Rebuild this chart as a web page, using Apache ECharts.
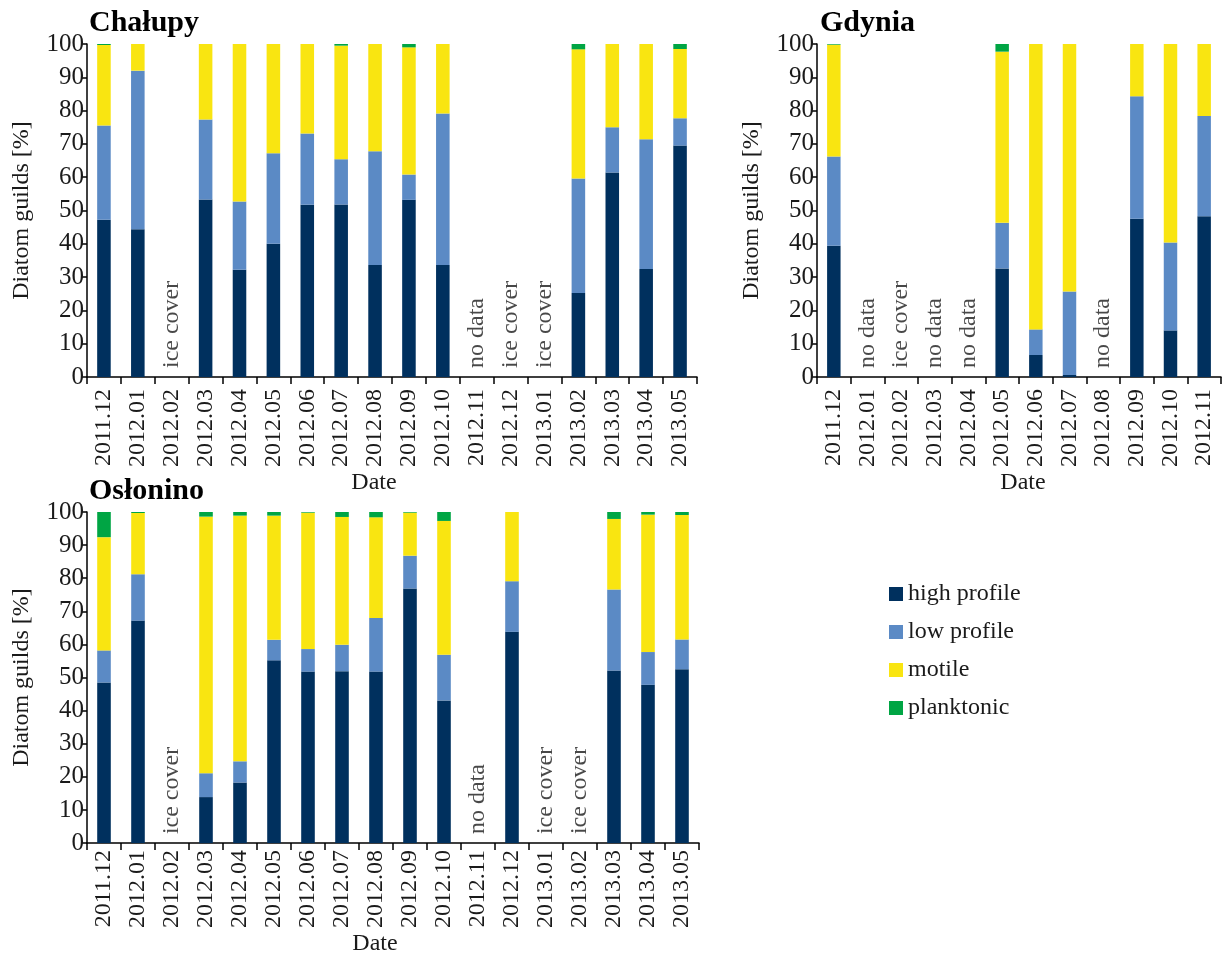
<!DOCTYPE html>
<html>
<head>
<meta charset="utf-8">
<script src="https://cdn.jsdelivr.net/npm/echarts@6/dist/echarts.min.js"></script>
<style>
html,body{margin:0;padding:0;background:#fff;}
#chart{width:1229px;height:957px;}
</style>
</head>
<body>
<div id="chart"></div>
<script>
// ---------- DATA ----------
const seriesNames = ['high profile', 'low profile', 'motile', 'planktonic'];

const chalupyCats = ['2011.12','2012.01','2012.02','2012.03','2012.04','2012.05','2012.06','2012.07','2012.08','2012.09','2012.10','2012.11','2012.12','2013.01','2013.02','2013.03','2013.04','2013.05'];
const chalupyHigh  = [47.2, 44.4, null, 53.3, 32.2, 40.0, 51.7, 51.8, 33.6, 53.2, 33.6, null, null, null, 25.2, 61.4, 32.4, 69.5];
const chalupyLow   = [28.3, 47.6, null, 24.0, 20.5, 27.2, 21.4, 13.6, 34.2, 7.6, 45.5, null, null, null, 34.4, 13.6, 39.0, 8.2];
const chalupyMot   = [24.2, 8.0, null, 22.7, 47.3, 32.8, 26.9, 34.1, 32.2, 38.2, 20.9, null, null, null, 38.8, 25.0, 28.6, 20.8];
const chalupyPlank = [0.3, 0, null, 0, 0, 0, 0, 0.5, 0, 1.0, 0, null, null, null, 1.6, 0, 0, 1.5];
const chalupyNotes = ['', '', 'ice cover', '', '', '', '', '', '', '', '', 'no data', 'ice cover', 'ice cover', '', '', '', ''];

const gdyniaCats = ['2011.12','2012.01','2012.02','2012.03','2012.04','2012.05','2012.06','2012.07','2012.08','2012.09','2012.10','2012.11'];
const gdyniaHigh  = [39.4, null, null, null, null, 32.6, 6.6, 0.6, null, 47.5, 14.0, 48.3];
const gdyniaLow   = [26.8, null, null, null, null, 13.7, 7.7, 25.1, null, 36.8, 26.4, 30.1];
const gdyniaMot   = [33.6, null, null, null, null, 51.4, 85.7, 74.3, null, 15.7, 59.6, 21.6];
const gdyniaPlank = [0.2, null, null, null, null, 2.3, 0, 0, null, 0, 0, 0];
const gdyniaNotes = ['', 'no data', 'ice cover', 'no data', 'no data', '', '', '', 'no data', '', '', ''];

const oslCats = ['2011.12','2012.01','2012.02','2012.03','2012.04','2012.05','2012.06','2012.07','2012.08','2012.09','2012.10','2012.11','2012.12','2013.01','2013.02','2013.03','2013.04','2013.05'];
const oslHigh  = [48.5, 67.2, null, 13.9, 18.3, 55.2, 51.8, 51.9, 51.8, 76.9, 43.1, null, 63.8, null, null, 52.1, 47.8, 52.5];
const oslLow   = [9.7, 14.0, null, 7.2, 6.4, 6.2, 6.8, 8.0, 16.2, 9.9, 13.8, null, 15.3, null, null, 24.5, 9.9, 9.0];
const oslMot   = [34.2, 18.5, null, 77.5, 74.2, 37.5, 41.2, 38.6, 30.4, 13.0, 40.4, null, 20.9, null, null, 21.3, 41.5, 37.6];
const oslPlank = [7.6, 0.3, null, 1.4, 1.1, 1.1, 0.2, 1.5, 1.6, 0.2, 2.7, null, 0, null, null, 2.1, 0.8, 0.9];
const oslNotes = ['', '', 'ice cover', '', '', '', '', '', '', '', '', 'no data', '', 'ice cover', 'ice cover', '', '', ''];

const yTicks = [0, 10, 20, 30, 40, 50, 60, 70, 80, 90, 100];

// ---------- STYLE ----------
const colors = ['#00305E', '#5B8AC5', '#F9E511', '#00A544'];
const FONT = '"Liberation Serif", "DejaVu Serif", serif';
const TXT = '#1a1a1a';

const panels = [
  {title: 'Chałupy', cats: chalupyCats, vals: [chalupyHigh, chalupyLow, chalupyMot, chalupyPlank], notes: chalupyNotes,
   grid: {left: 87, top: 44, width: 610, height: 333}, titlePos: {left: 84, top: 3},
   labelMargin: 12, nameGap: 94, namePad: [0, 36, 0, 0]},
  {title: 'Gdynia', cats: gdyniaCats, vals: [gdyniaHigh, gdyniaLow, gdyniaMot, gdyniaPlank], notes: gdyniaNotes,
   grid: {left: 817, top: 44, width: 404, height: 333}, titlePos: {left: 815, top: 3},
   labelMargin: 12, nameGap: 94, namePad: [0, 0, 0, 8]},
  {title: 'Osłonino', cats: oslCats, vals: [oslHigh, oslLow, oslMot, oslPlank], notes: oslNotes,
   grid: {left: 87, top: 512, width: 612, height: 333}, titlePos: {left: 84, top: 471},
   labelMargin: 7, nameGap: 88, namePad: [0, 36, 0, 0]}
];

const option = {
  backgroundColor: '#fff',
  animation: false,
  title: [],
  grid: [],
  xAxis: [],
  yAxis: [],
  series: [],
  legend: {
    data: seriesNames,
    orient: 'vertical',
    left: 884,
    top: 577,
    itemWidth: 14,
    itemHeight: 14,
    itemGap: 14,
    icon: 'rect',
    textStyle: {fontFamily: FONT, fontSize: 24, color: TXT, lineHeight: 24}
  }
};

panels.forEach((p, i) => {
  option.title.push({
    text: p.title, left: p.titlePos.left, top: p.titlePos.top,
    textStyle: {fontFamily: FONT, fontSize: 30, fontWeight: 'bold', color: '#000'}
  });
  option.grid.push(Object.assign({containLabel: false}, p.grid));
  option.xAxis.push({
    type: 'category', gridIndex: i, data: p.cats,
    name: 'Date', nameLocation: 'middle', nameGap: p.nameGap,
    nameTextStyle: {fontFamily: FONT, fontSize: 24, color: TXT, padding: p.namePad},
    axisLine: {lineStyle: {color: '#000', width: 1.5}},
    axisTick: {show: true, inside: false, length: 7, lineStyle: {color: '#000', width: 1.5}},
    axisLabel: {rotate: 90, interval: 0, margin: p.labelMargin, fontFamily: FONT, fontSize: 24, color: TXT},
    splitLine: {show: false}
  });
  option.yAxis.push({
    type: 'value', gridIndex: i, min: 0, max: 100, interval: 10,
    name: 'Diatom guilds [%]', nameLocation: 'middle', nameGap: 53,
    nameTextStyle: {fontFamily: FONT, fontSize: 24, color: TXT},
    axisLine: {show: true, lineStyle: {color: '#000', width: 1.5}},
    axisTick: {show: true, inside: false, length: 5, lineStyle: {color: '#000', width: 1.5}},
    axisLabel: {margin: 3, fontFamily: FONT, fontSize: 25, color: TXT,
      formatter: v => yTicks.indexOf(v) >= 0 ? String(v) : ''},
    splitLine: {show: false}
  });
  seriesNames.forEach((name, k) => {
    option.series.push({
      name: name, type: 'bar', stack: 'panel' + i,
      xAxisIndex: i, yAxisIndex: i,
      barWidth: '40%',
      itemStyle: {color: colors[k]},
      data: p.vals[k]
    });
  });
  option.series.push({
    name: 'notes' + i, type: 'scatter', xAxisIndex: i, yAxisIndex: i,
    symbolSize: 0, silent: true, z: 5,
    data: p.notes.map((n, j) => n ? {value: [j, 0], note: n} : null).filter(d => d),
    label: {
      show: true, position: 'top', distance: 9, rotate: 90,
      align: 'left', verticalAlign: 'middle',
      formatter: prm => prm.data.note,
      fontFamily: FONT, fontSize: 24, color: TXT
    }
  });
});

const chart = echarts.init(document.getElementById('chart'), null, {renderer: 'canvas'});
chart.setOption(option);
</script>
</body>
</html>
